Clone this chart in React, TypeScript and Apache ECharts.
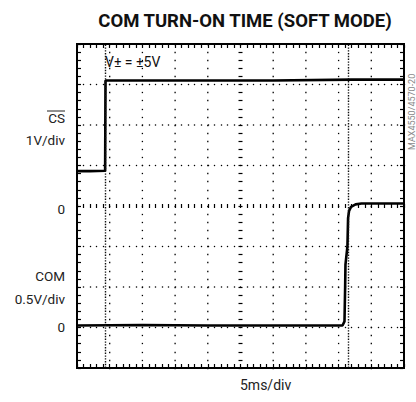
import React, { useEffect, useRef } from "react";
import * as echarts from "echarts";

// time axis in ms (5 ms/div, 10 divisions), vertical axis in divisions (-4..4)
const timeRange = [0, 50];
const divRange = [-4, 4];
const csTrace: [number, number][] = [
  [0, 0.86], [2, 0.86], [4.3, 0.87], [4.36, 3.1], [15, 3.1], [30, 3.1], [42, 3.12], [50, 3.12],
];
const comTrace: [number, number][] = [
  [0, -2.95], [10, -2.94], [20, -2.95], [30, -2.95], [40.6, -2.95], [40.9, -2.85],
  [41.0, -2.0], [41.05, -1.45], [41.35, -1.0], [41.45, -0.3], [41.6, -0.12],
  [41.9, -0.02], [42.6, 0.04], [43.5, 0.06], [50, 0.06],
];
const cursors = [4.33, 41.5];
const sideLabels = ["1V/div", "0", "COM", "0.5V/div", "0"];
const xDivs = 10;
const yDivs = 8;

const GL = 77, GT = 44, GW = 327, GH = 324;
const font = "Roboto, 'Liberation Sans', sans-serif";

function tickAxis(kind: "x" | "y", position: string, offset: number, tickLen: number, tickW: number) {
  return {
    type: "value",
    position,
    offset,
    min: kind === "x" ? timeRange[0] : divRange[0],
    max: kind === "x" ? timeRange[1] : divRange[1],
    interval: kind === "x" ? 5 : 1,
    axisLabel: { show: false },
    axisLine: { show: false, onZero: false },
    axisTick: { show: true, inside: true, length: tickLen, lineStyle: { color: "#000", width: tickW } },
    minorTick: { show: true, splitNumber: 5, length: tickLen, lineStyle: { color: "#000", width: tickW } },
    splitLine: { show: false },
  };
}

export default function App() {
  const ref = useRef<HTMLDivElement>(null);
  useEffect(() => {
    const chart = echarts.init(ref.current!, null, { renderer: "svg" });
    const xAxes: any[] = [
      tickAxis("x", "bottom", -1, 3, 1.2),
      tickAxis("x", "top", -1, 3, 1.2),
      tickAxis("x", "bottom", -(GH / 2 - 2), 4, 1.2),
    ];
    const yAxes: any[] = [
      tickAxis("y", "left", -1, 3, 1.2),
      tickAxis("y", "right", -1, 3, 1.2),
      tickAxis("y", "left", -(GW / 2 - 2), 4, 1.2),
    ];
    // dotted graticule: rows of dots made of tiny ticks
    for (let j = 1; j < yDivs; j++) {
      if (j === yDivs / 2) continue;
      xAxes.push(tickAxis("x", "bottom", -(j * GH / yDivs - 0.65), 1.3, 1.3));
    }
    for (let k = 1; k < xDivs; k++) {
      if (k === xDivs / 2) continue;
      yAxes.push(tickAxis("y", "left", -(k * GW / xDivs - 0.65), 1.3, 1.3));
    }
    chart.setOption({
      animation: false,
      title: {
        text: "COM TURN-ON TIME (SOFT MODE)",
        left: 240, top: 6, textAlign: "center",
        textStyle: { fontFamily: font, fontWeight: "bold", fontSize: 18.5, color: "#111" },
      },
      grid: { left: GL, top: GT, width: GW, height: GH, show: false },
      xAxis: xAxes,
      yAxis: yAxes,
      series: [
        {
          type: "line", data: csTrace, xAxisIndex: 0, yAxisIndex: 0,
          showSymbol: false, lineStyle: { color: "#000", width: 2.6 },
          markLine: {
            silent: true, symbol: "none", label: { show: false },
            lineStyle: { color: "#111", width: 1.4, type: [1.4, 1.4] },
            data: cursors.map((c) => ({ xAxis: c })),
          },
        },
        {
          type: "line", data: comTrace, xAxisIndex: 0, yAxisIndex: 0,
          showSymbol: false, lineStyle: { color: "#000", width: 2.6 },
        },
      ],
      graphic: [
        {
          type: "rect", shape: { x: GL, y: GT, width: GW, height: GH },
          style: { fill: "none", stroke: "#000", lineWidth: 2 }, z: 10,
        },
        { type: "text", left: 105, top: 55, style: { text: "V± = ±5V", font: "14px " + font, fill: "#111" } },
        { type: "text", right: 416 - 65, top: 111, style: { text: "CS", font: "13.5px " + font, fill: "#222", align: "right" } },
        { type: "line", shape: { x1: 47, y1: 111, x2: 65, y2: 111 }, style: { stroke: "#222", lineWidth: 1 } },
        { type: "text", right: 416 - 65, top: 133, style: { text: sideLabels[0], font: "13.5px " + font, fill: "#222" } },
        { type: "text", right: 416 - 65, top: 202, style: { text: sideLabels[1], font: "13.5px " + font, fill: "#222" } },
        { type: "text", right: 416 - 65, top: 269, style: { text: sideLabels[2], font: "13.5px " + font, fill: "#222" } },
        { type: "text", right: 416 - 65, top: 292, style: { text: sideLabels[3], font: "13.5px " + font, fill: "#222" } },
        { type: "text", right: 416 - 65, top: 320, style: { text: sideLabels[4], font: "13.5px " + font, fill: "#222" } },
        { type: "text", left: 240, top: 378, style: { text: "5ms/div", font: "14px " + font, fill: "#222", align: "center" } },
        {
          type: "text", x: 407, y: 150, rotation: Math.PI / 2,
          style: { text: "MAX4550/4570-20", font: "9px " + font, fill: "#888" },
        },
      ],
    });
    return () => chart.dispose();
  }, []);
  return <div ref={ref} style={{ position: "fixed", left: 0, top: 0, width: 416, height: 402, background: "#fff" }} />;
}
